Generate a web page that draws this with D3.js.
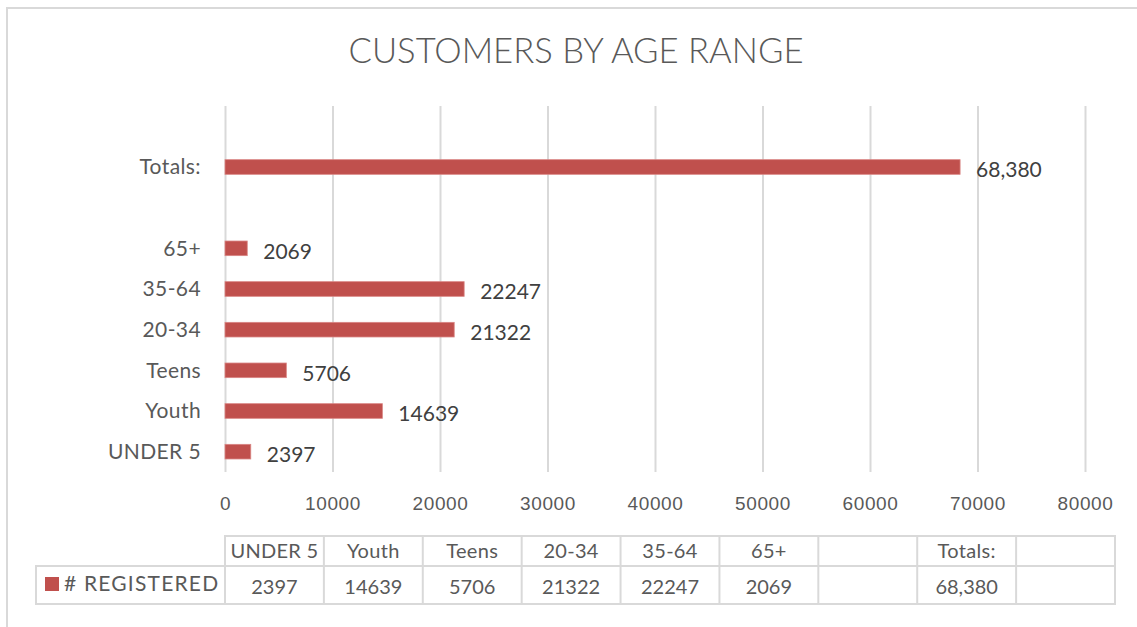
<!DOCTYPE html>
<html>
<head>
<meta charset="utf-8">
<script src="https://cdn.jsdelivr.net/npm/d3@7"></script>
<style>
  html, body { margin: 0; padding: 0; background: #fff; }
  svg { display: block; font-family: Lato, "Open Sans", sans-serif; }
</style>
</head>
<body>
<div id="chart"></div>
<script>
// chart data (bottom to top on the y axis, left to right in the table)
const categories = ["UNDER 5", "Youth", "Teens", "20-34", "35-64", "65+", "", "Totals:", ""];
const registered = [2397, 14639, 5706, 21322, 22247, 2069, null, 68380, null];
const valueLabels = ["2397", "14639", "5706", "21322", "22247", "2069", "", "68,380", ""];
const xTicks = [0, 10000, 20000, 30000, 40000, 50000, 60000, 70000, 80000];
const seriesName = "# REGISTERED";
const chartTitle = "CUSTOMERS BY AGE RANGE";

const W = 1137, H = 627;
const textColor = "#595959";
const gridColor = "#d9d9d9";
const barColor = "#c0504d";

const svg = d3.select("#chart").append("svg")
  .attr("width", W)
  .attr("height", H);

// outer chart frame
svg.append("rect")
  .attr("x", 7).attr("y", 8)
  .attr("width", W + 20).attr("height", H + 20)
  .attr("fill", "#fff")
  .attr("stroke", gridColor)
  .attr("stroke-width", 2);

// title
svg.append("text")
  .attr("x", 576).attr("y", 63)
  .attr("text-anchor", "middle")
  .attr("fill", textColor)
  .style("font-size", "35px")
  .style("font-weight", 300)
  .attr("textLength", 455)
  .attr("lengthAdjust", "spacingAndGlyphs")
  .text(chartTitle);

const plot = { left: 225, right: 1085, top: 106, bottom: 472 };

const x = d3.scaleLinear()
  .domain([0, 80000])
  .range([plot.left, plot.right]);

const y = d3.scaleBand()
  .domain(d3.range(categories.length))
  .range([plot.bottom, plot.top])
  .paddingInner(0.64)
  .paddingOuter(0.32);

// vertical gridlines + tick labels
const xAxis = svg.append("g")
  .attr("transform", `translate(0,${plot.bottom})`)
  .call(d3.axisBottom(x)
    .tickValues(xTicks)
    .tickSize(-(plot.bottom - plot.top))
    .tickFormat(d3.format("d")));
xAxis.select(".domain").remove();
xAxis.selectAll(".tick line")
  .attr("stroke", gridColor)
  .attr("stroke-width", 2);
xAxis.selectAll(".tick text")
  .attr("fill", textColor)
  .style("font-size", "19px")
  .style("letter-spacing", "0.6px")
  .attr("dy", "0.35em")
  .attr("y", 31);

// category labels
svg.append("g")
  .selectAll("text")
  .data(categories)
  .join("text")
  .attr("x", 201)
  .attr("y", (d, i) => y(i) + y.bandwidth() / 2)
  .attr("dy", "0.35em")
  .attr("text-anchor", "end")
  .attr("fill", textColor)
  .style("font-size", "21px")
  .style("letter-spacing", "0.4px")
  .text(d => d);

const barData = registered
  .map((v, i) => ({ i, v, label: valueLabels[i] }))
  .filter(d => d.v != null);

// bars
svg.append("g")
  .selectAll("rect")
  .data(barData)
  .join("rect")
  .attr("x", x(0))
  .attr("y", d => y(d.i))
  .attr("width", d => x(d.v) - x(0))
  .attr("height", y.bandwidth())
  .attr("fill", barColor)
  .attr("stroke", "#d98583")
  .attr("stroke-width", 0.8);

// data labels
svg.append("g")
  .selectAll("text")
  .data(barData)
  .join("text")
  .attr("x", d => x(d.v) + 16)
  .attr("y", d => y(d.i) + y.bandwidth() / 2 + 3)
  .attr("dy", "0.35em")
  .attr("fill", "#404040")
  .style("font-size", "21px")
  .text(d => d.label);

// data table under the chart
const table = { left: 225, right: 1115, legendLeft: 36, top: 536, mid: 566, bottom: 604 };
const col = d3.scaleBand()
  .domain(d3.range(categories.length))
  .range([table.left, table.right]);

const tg = svg.append("g");
const lineStyle = sel => sel.attr("stroke", gridColor).attr("stroke-width", 2).attr("fill", "none");

tg.append("rect")
  .attr("x", table.left).attr("y", table.top)
  .attr("width", table.right - table.left).attr("height", table.bottom - table.top)
  .call(lineStyle);
tg.append("rect")
  .attr("x", table.legendLeft).attr("y", table.mid)
  .attr("width", table.left - table.legendLeft).attr("height", table.bottom - table.mid)
  .call(lineStyle);
tg.append("line")
  .attr("x1", table.left).attr("x2", table.right)
  .attr("y1", table.mid).attr("y2", table.mid)
  .call(lineStyle);
tg.selectAll("line.col")
  .data(d3.range(1, categories.length))
  .join("line")
  .attr("class", "col")
  .attr("x1", d => col(d)).attr("x2", d => col(d))
  .attr("y1", table.top).attr("y2", table.bottom)
  .call(lineStyle);

tg.selectAll("text.head")
  .data(categories)
  .join("text")
  .attr("class", "head")
  .attr("x", (d, i) => col(i) + col.bandwidth() / 2)
  .attr("y", (table.top + table.mid) / 2)
  .attr("dy", "0.35em")
  .attr("text-anchor", "middle")
  .attr("fill", textColor)
  .style("font-size", "20px")
  .style("letter-spacing", "0.3px")
  .text(d => d);

tg.selectAll("text.val")
  .data(valueLabels)
  .join("text")
  .attr("class", "val")
  .attr("x", (d, i) => col(i) + col.bandwidth() / 2)
  .attr("y", (table.mid + table.bottom) / 2 + 2)
  .attr("dy", "0.35em")
  .attr("text-anchor", "middle")
  .attr("fill", textColor)
  .style("font-size", "20px")
  .text(d => d);

// legend key
tg.append("rect")
  .attr("x", 45).attr("y", 577)
  .attr("width", 14).attr("height", 14)
  .attr("fill", barColor);
tg.append("text")
  .attr("x", 64)
  .attr("y", 584)
  .attr("dy", "0.35em")
  .attr("fill", textColor)
  .style("font-size", "21px")
  .style("letter-spacing", "1.2px")
  .text(seriesName);
</script>
</body>
</html>
